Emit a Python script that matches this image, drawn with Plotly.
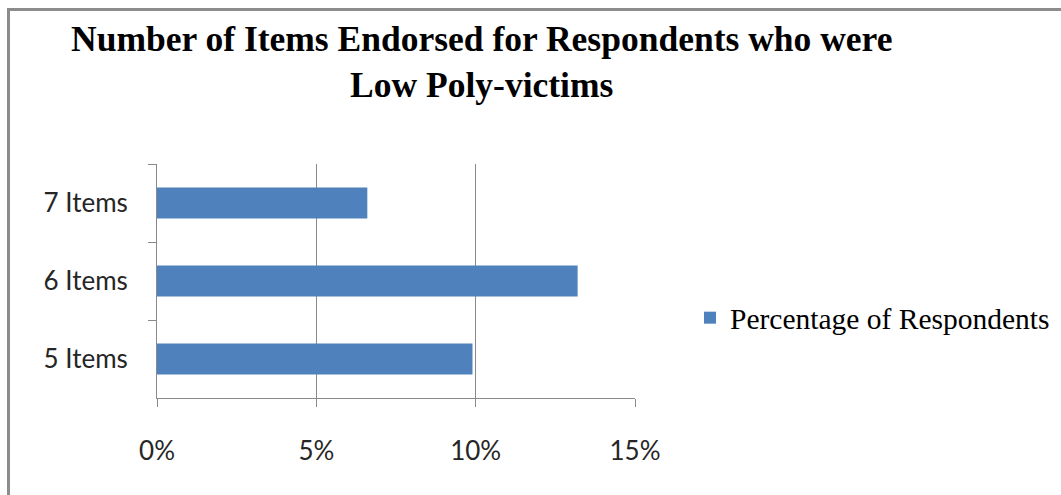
import plotly.graph_objects as go

categories = ["5 Items", "6 Items", "7 Items"]
values = [9.9, 13.2, 6.6]
x_ticks = [0, 5, 10, 15]
x_tick_labels = ["0%", "5%", "10%", "15%"]
series_name = "Percentage of Respondents"
title_text = "Number of Items Endorsed for Respondents who were<br>Low Poly-victims"

W, H = 1061, 495

fig = go.Figure()
fig.add_trace(go.Bar(
    x=values, y=categories, orientation="h", name=series_name,
    marker=dict(color="#4F81BD", line=dict(color="#4F81BD", width=0)),
    showlegend=True,
))

fig.update_layout(
    width=W, height=H,
    margin=dict(l=0, r=0, t=0, b=0, autoexpand=False),
    paper_bgcolor="white", plot_bgcolor="white",
    bargap=0.6,
    showlegend=True,
    legend=dict(
        x=690 / W, y=1 - 318 / H, xanchor="left", yanchor="middle",
        font=dict(family="Liberation Serif", size=29.5, color="#000000"),
        bgcolor="rgba(0,0,0,0)",
    ),
    annotations=[dict(
        text="<b>" + title_text + "</b>",
        x=481 / W, y=1 - 17 / H, xref="paper", yref="paper",
        xanchor="center", yanchor="top", showarrow=False,
        font=dict(family="Liberation Serif", size=35.5, color="#000000"),
        align="center",
    )],
    shapes=[dict(
        type="rect", xref="paper", yref="paper",
        x0=8.5 / W, x1=1.2, y0=-0.2, y1=1 - 9.5 / H,
        line=dict(color="#8c8c8c", width=3), fillcolor="rgba(0,0,0,0)",
    )],
)

fig.update_xaxes(
    domain=[157 / W, 635 / W],
    range=[0, 15],
    automargin=False,
    tickvals=x_ticks, ticktext=x_tick_labels,
    showgrid=True, gridcolor="#8a8a8a", gridwidth=1,
    showline=True, linecolor="#8a8a8a", linewidth=1,
    ticks="outside", ticklen=8, tickcolor="#8a8a8a",
    tickfont=dict(family="Lato", size=26, color="#262626"),
    ticklabelstandoff=22,
    zeroline=False,
)
fig.update_yaxes(
    domain=[1 - 398 / H, 1 - 164 / H],
    categoryorder="array", categoryarray=categories,
    automargin=False,
    showgrid=False,
    showline=True, linecolor="#8a8a8a", linewidth=1,
    ticks="outside", ticklen=8, tickcolor="#8a8a8a",
    tickson="boundaries",
    tickfont=dict(family="Lato", size=26, color="#262626"),
    ticklabelstandoff=23,
)

fig.write_html("out.html", config={"displayModeBar": False},
               post_script="document.body.style.margin='0px';")
